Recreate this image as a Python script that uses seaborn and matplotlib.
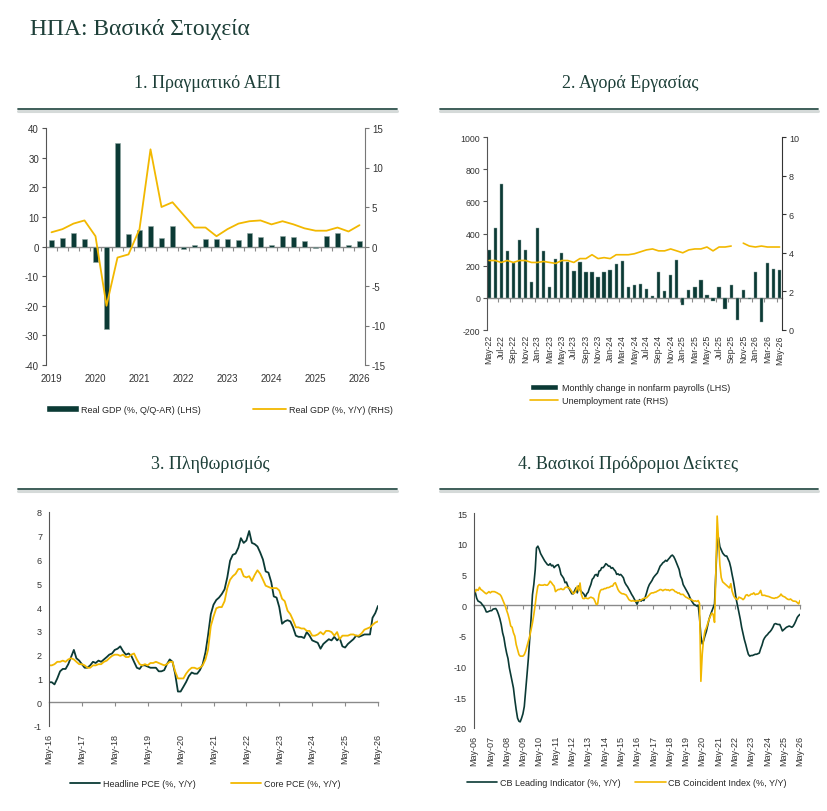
import numpy as np
import pandas as pd
import matplotlib
matplotlib.use("Agg")
import matplotlib.pyplot as plt
import matplotlib.dates as mdates
from matplotlib.lines import Line2D
from matplotlib.patches import Patch
import seaborn as sns

# colours
DARK = "#0b3a35"
GOLD = "#f2b800"
TITLE = "#1d3f38"
AXIS = "#555555"
ZERO = "#8a8a8a"

# %% data

# 1. real GDP, quarterly 2019Q1 - 2026Q1
gdp_years = ["2019", "2020", "2021", "2022", "2023", "2024", "2025", "2026"]
gdp_qoq = [2.2, 3.0, 4.6, 2.6, -5.3, -28.0, 34.8, 4.3, 5.6, 6.9, 3.0, 6.9,
           -1.0, 0.6, 2.6, 2.6, 2.6, 2.2, 4.7, 3.1, 0.6, 3.5, 3.1, 1.8,
           -0.5, 3.5, 4.4, 0.6, 1.8]
gdp_yoy = [1.8, 2.2, 2.9, 3.3, 1.3, -7.5, -1.4, -1.0, 2.2, 12.3, 5.0, 5.6,
           4.0, 2.4, 2.4, 1.3, 2.2, 2.9, 3.2, 3.3, 2.8, 3.2, 2.8, 2.3,
           2.0, 2.0, 2.4, 1.9, 2.7]

# 2. labour market, monthly May-22 - May-26
payrolls = [300, 437, 710, 293, 216, 357, 300, 101,
            437, 293, 66, 243, 278, 223, 165, 223, 160, 160, 130, 160,
            173, 210, 230, 66, 80, 88, 52, 12, 160, 40, 139, 238,
            -46, 48, 69, 113, 17, -17, 69, -67, 81, -140, 48, -10,
            163, -152, 219, 182, 175]
unemployment = [3.6, 3.6, 3.5, 3.6, 3.5, 3.6, 3.6, 3.5,
                3.5, 3.55, 3.5, 3.45, 3.6, 3.6, 3.5, 3.7, 3.7, 3.9, 3.7, 3.75,
                3.7, 3.9, 3.9, 3.9, 3.95, 4.05, 4.15, 4.2, 4.1, 4.1, 4.2, 4.1,
                4.0, 4.15, 4.2, 4.2, 4.3, 4.1, 4.3, 4.3, 4.35, np.nan, 4.5, 4.35,
                4.3, 4.35, 4.3, 4.3, 4.3]

# 3. inflation, monthly May-16 - May-26
pce_headline = [0.84, 0.84, 0.75, 1.0, 1.3, 1.4, 1.4, 1.6, 1.9, 2.2, 1.85, 1.75,
                1.6, 1.45, 1.45, 1.55, 1.7, 1.65, 1.75, 1.7, 1.8, 1.9, 2.0, 2.05,
                2.2, 2.25, 2.35, 2.15, 2.0, 2.05, 1.95, 1.7, 1.45, 1.4, 1.55, 1.55,
                1.5, 1.45, 1.45, 1.45, 1.3, 1.3, 1.35, 1.6, 1.8, 1.7, 1.2, 0.45,
                0.45, 0.65, 0.85, 1.1, 1.25, 1.2, 1.2, 1.35, 1.6, 2.1, 2.8, 3.7,
                4.1, 4.3, 4.4, 4.55, 4.75, 5.25, 5.95, 6.2, 6.25, 6.5, 6.9, 6.7,
                6.8, 7.2, 6.7, 6.65, 6.55, 6.3, 6.0, 5.5, 5.45, 5.05, 4.45, 4.4,
                4.0, 3.3, 3.4, 3.45, 3.4, 3.15, 2.8, 2.75, 2.75, 2.7, 2.95, 2.8,
                2.6, 2.55, 2.5, 2.25, 2.45, 2.55, 2.65, 2.6, 2.75, 2.6, 2.7, 2.35,
                2.3, 2.45, 2.55, 2.65, 2.8, 2.75, 2.8, 2.85, 2.85, 2.85, 3.55, 3.75,
                4.05]
pce_core = [1.55, 1.55, 1.6, 1.7, 1.7, 1.75, 1.7, 1.8, 1.85, 1.8, 1.7, 1.6,
            1.6, 1.55, 1.45, 1.45, 1.55, 1.55, 1.6, 1.6, 1.7, 1.75, 1.85, 1.95,
            2.0, 2.0, 1.95, 2.0, 1.9, 1.9, 2.0, 2.05, 1.8, 1.6, 1.55, 1.6,
            1.55, 1.65, 1.65, 1.7, 1.65, 1.6, 1.55, 1.6, 1.7, 1.7, 1.3, 1.0,
            1.0, 1.0, 1.2, 1.35, 1.45, 1.45, 1.4, 1.45, 1.55, 1.8, 2.2, 3.2,
            3.6, 3.95, 4.0, 4.0, 4.25, 4.8, 5.15, 5.3, 5.4, 5.6, 5.6, 5.3,
            5.25, 5.3, 5.1, 5.35, 5.55, 5.4, 5.15, 4.9, 4.85, 4.8, 4.8, 4.8,
            4.7, 4.35, 4.25, 3.85, 3.7, 3.45, 3.15, 3.15, 3.1, 3.1, 3.0, 3.0,
            2.8, 2.8, 2.85, 2.95, 2.85, 3.0, 3.0, 2.95, 2.8, 2.95, 2.65, 2.8,
            2.8, 2.8, 2.85, 2.85, 2.8, 2.8, 2.9, 3.05, 3.1, 3.15, 3.25, 3.35,
            3.4]

# 4. Conference Board indices, monthly May-06 - May-26
cb_leading = [2.8, 2.0, 1.1, 0.65, 0.55, 0.4, 0.1, -0.15,
              -0.55, -1.1, -1.1, -1.0, -0.9, -0.9, -0.65, -0.6, -0.55, -0.9, -1.5, -2.2,
              -3.15, -4.5, -5.3, -6.7, -7.8, -8.7, -10.2, -11.3, -12.4, -13.5, -15.4, -17.0,
              -18.4, -18.9, -19.0, -18.4, -17.7, -16.5, -14.0, -11.3, -8.6, -5.3, -2.1, 1.7,
              3.4, 5.8, 9.3, 9.6, 9.1, 8.4, 8.0, 7.6, 7.2, 6.9, 6.6, 6.5,
              6.75, 6.4, 6.5, 6.1, 6.35, 6.5, 6.6, 6.0, 5.0, 4.7, 4.35, 3.65,
              3.75, 3.1, 2.7, 2.3, 1.85, 1.85, 2.3, 2.8, 2.0, 3.1, 2.55, 2.2,
              2.0, 1.75, 1.3, 1.85, 2.1, 2.8, 3.35, 4.2, 4.45, 4.9, 5.0, 4.7,
              5.55, 5.65, 6.1, 6.1, 6.35, 6.75, 6.6, 6.35, 6.35, 6.0, 6.1, 5.8,
              5.55, 5.0, 5.1, 4.9, 5.0, 4.75, 4.45, 3.7, 3.3, 3.0, 2.6, 2.2,
              1.75, 1.4, 1.0, 0.6, 0.15, 0.65, 0.9, 0.65, 0.9, 0.75, 1.3, 2.0,
              2.8, 3.35, 3.65, 4.0, 4.45, 4.75, 5.0, 5.25, 5.8, 6.35, 6.6, 6.9,
              7.05, 7.3, 7.15, 7.45, 7.7, 8.0, 8.15, 7.9, 7.45, 6.9, 6.35, 5.8,
              4.7, 4.2, 3.35, 2.95, 2.55, 2.15, 1.75, 1.2, 0.75, 0.4, 0.1, 0.0,
              -0.15, 0.0, -2.0, -5.0, -6.3, -5.8, -5.0, -4.3, -3.3, -2.3, -1.6, -1.0,
              -0.4, 0.2, 5.0, 10.4, 11.0, 9.5, 9.0, 8.5, 8.2, 8.0, 8.0, 7.5,
              7.0, 6.1, 5.0, 3.9, 2.6, 1.0, -0.1, -1.2, -2.3, -3.6, -4.6, -5.6,
              -6.4, -7.3, -8.0, -8.3, -8.2, -8.2, -8.1, -8.0, -8.0, -7.9, -7.8, -7.1,
              -6.5, -5.7, -5.3, -5.0, -4.8, -4.5, -4.3, -4.0, -3.6, -3.1, -3.0, -3.1,
              -3.15, -3.15, -3.6, -4.2, -4.0, -3.8, -3.6, -3.5, -3.4, -3.5, -3.6, -3.4,
              -3.0, -2.5, -2.0, -1.7, -1.5]
cb_coincident = [2.7, 2.2, 2.55, 2.4, 2.9, 2.55, 2.4, 2.2,
                 2.0, 1.85, 2.0, 2.2, 2.0, 2.2, 2.2, 2.2, 2.1, 2.0, 1.85, 1.75,
                 1.45, 0.9, 0.4, -0.15, -0.85, -1.5, -2.35, -3.4, -3.6, -4.5, -5.05, -6.4,
                 -7.2, -8.05, -8.3, -8.3, -8.3, -8.05, -7.5, -6.7, -5.85, -5.05, -3.95, -2.9,
                 -1.5, 0.1, 1.75, 3.1, 3.35, 3.25, 3.25, 3.25, 3.35, 3.25, 3.25, 3.5,
                 3.9, 3.65, 3.35, 3.1, 2.2, 2.4, 2.55, 2.55, 2.7, 2.55, 2.55, 2.85,
                 2.95, 2.85, 2.85, 2.55, 2.2, 1.85, 2.0, 2.4, 3.1, 2.3, 3.6, 1.75,
                 1.1, 1.05, 1.2, 1.1, 1.05, 1.2, 1.3, 1.2, 1.1, 0.65, 0.1, 0.2,
                 1.75, 2.4, 2.55, 2.55, 2.7, 2.7, 2.85, 2.85, 2.95, 3.1, 3.1, 3.5,
                 3.65, 3.1, 2.55, 2.2, 2.0, 1.85, 1.85, 1.75, 1.65, 1.3, 0.9, 0.75,
                 0.65, 0.75, 0.65, 0.65, 0.75, 0.7, 0.75, 0.85, 1.0, 1.1, 1.2, 1.2,
                 1.45, 1.7, 1.9, 2.0, 2.0, 2.1, 2.15, 2.3, 2.4, 2.55, 2.5, 2.35,
                 2.5, 2.55, 2.45, 2.5, 2.35, 2.5, 2.55, 2.45, 2.2, 2.15, 1.95, 2.0,
                 1.75, 1.75, 1.75, 1.5, 1.3, 1.2, 1.05, 1.0, 0.9, 0.75, 0.65, 0.7,
                 0.6, 0.75, 0.3, -12.4, -8.0, -5.5, -4.2, -3.7, -3.0, -2.3, -1.8, -1.3,
                 -1.5, -2.8, 5.0, 14.5, 10.5, 6.5, 4.5, 3.8, 3.6, 3.4, 3.2, 3.0,
                 2.8, 3.5, 2.3, 1.6, 1.2, 1.0, 0.9, 1.3, 1.2, 1.1, 0.9, 1.1,
                 1.6, 1.7, 1.5, 1.6, 1.8, 1.8, 2.0, 1.7, 1.8, 1.8, 2.0, 2.4,
                 1.6, 1.6, 1.6, 1.5, 1.45, 1.4, 1.3, 1.2, 1.15, 1.1, 1.2, 1.2,
                 1.35, 1.5, 1.8, 1.5, 1.4, 1.3, 1.1, 0.95, 0.9, 1.0, 0.8, 0.65,
                 0.65, 0.6, 0.4, 0.2, 0.75]

# x positions / dates
q_idx = np.arange(len(gdp_qoq))
m_idx = np.arange(len(payrolls))
m_dates = pd.date_range("2022-05-01", periods=len(payrolls), freq="MS")
pce_dates = pd.date_range("2016-05-01", periods=len(pce_headline), freq="MS")
cb_dates = pd.date_range("2006-05-01", periods=len(cb_leading), freq="MS")

# %% style
sns.set_style("white")
plt.rcParams["font.family"] = ["Liberation Sans", "DejaVu Sans"]
plt.rcParams["font.size"] = 6.5
plt.rcParams["axes.linewidth"] = 0.8
plt.rcParams["axes.unicode_minus"] = False

W, H = 827, 812
fig = plt.figure(figsize=(W / 100, H / 100), dpi=100)


def box(x0, y0, x1, y1):
    # pixel box (top-left origin) -> figure fraction rect
    return [x0 / W, 1 - y1 / H, (x1 - x0) / W, (y1 - y0) / H]


def style_y(ax, side="left", color=AXIS, size=6.5):
    for s in ["top", "bottom", "left", "right"]:
        ax.spines[s].set_visible(False)
    ax.spines[side].set_visible(True)
    ax.spines[side].set_color(color)
    ax.tick_params(axis="y", direction="out", length=3, width=0.8,
                   color=color, labelcolor="#333333", labelsize=size, pad=2)


def zero_axis(ax, ticks):
    # x-axis line drawn at y = 0 with tick marks below it
    lo, hi = ax.get_ylim()
    sec = ax.secondary_xaxis((0 - lo) / (hi - lo))
    sec.set_alignment("bottom")
    sec.spines["bottom"].set_color(ZERO)
    sec.spines["bottom"].set_linewidth(1.0)
    sec.set_xticks(ticks)
    sec.tick_params(axis="x", direction="out", length=3, width=0.8,
                    color=ZERO, labelbottom=False, labeltop=False)
    return sec


def header(text, xc, y_text, x0, x1, y_line):
    fig.text(xc / W, 1 - y_text / H, text, ha="center", va="center",
             family="Liberation Serif", fontsize=13, color=TITLE)
    # soft shadow under the rule, then the rule
    fig.add_artist(Line2D([x0 / W, x1 / W], [1 - (y_line + 1.5) / H] * 2,
                          color="#d5dad9", lw=2.2, transform=fig.transFigure))
    fig.add_artist(Line2D([x0 / W, x1 / W], [1 - y_line / H] * 2,
                          color="#2f524c", lw=1.3, transform=fig.transFigure))


fig.text(30 / W, 1 - 30 / H, "ΗΠΑ: Βασικά Στοιχεία", ha="left", va="center",
         family="Liberation Serif", fontsize=17, color=TITLE)

header("1. Πραγματικό ΑΕΠ", 207, 83, 18, 397, 110)
header("2. Αγορά Εργασίας", 630, 83, 440, 818, 110)
header("3. Πληθωρισμός", 210, 465, 18, 397, 490)
header("4. Βασικοί Πρόδρομοι Δείκτες", 628, 465, 440, 818, 490)

# %% 1. real GDP
ax = fig.add_axes(box(46, 129, 365, 366))
sns.barplot(x=q_idx, y=gdp_qoq, ax=ax, color=DARK, width=0.45,
            saturation=1, edgecolor="#8fa5a1", linewidth=0.4)
ax.set_ylim(-40, 40)
ax.set_yticks(np.arange(-40, 41, 10))
ax.set_xlim(-0.5, len(q_idx) - 0.5)
ax.set_xticks(q_idx[::4])
ax.set_xticklabels(gdp_years)
ax.tick_params(axis="x", length=0, pad=6, labelsize=7, labelcolor="#333333")
ax.set_xlabel("")
style_y(ax, "left", size=7)
zero_axis(ax, q_idx[:-1] + 0.5)

ax2 = ax.twinx()
sns.lineplot(x=q_idx, y=gdp_yoy, ax=ax2, color=GOLD, linewidth=1.3)
ax2.set_ylim(-15, 15)
ax2.set_yticks(np.arange(-15, 16, 5))
style_y(ax2, "right", color="#777777", size=7)
ax2.set_xlim(-0.5, len(q_idx) - 0.5)

ax.legend(handles=[Patch(facecolor=DARK, label="Real GDP (%, Q/Q-AR) (LHS)"),
                   Line2D([], [], color=GOLD, lw=1.3,
                          label="Real GDP (%, Y/Y) (RHS)")],
          loc="center left", bbox_to_anchor=(0.0, -0.187), ncol=2,
          frameon=False, fontsize=6.5, handlelength=3.6, handleheight=0.7,
          handletextpad=0.3, columnspacing=5.8, borderpad=0, borderaxespad=0)

# %% 2. labour market
ax = fig.add_axes(box(487, 138, 782, 331))
sns.barplot(x=m_idx, y=payrolls, ax=ax, color=DARK, width=0.55,
            saturation=1, edgecolor="#8fa5a1", linewidth=0.3)
ax.set_ylim(-200, 1000)
ax.set_yticks(np.arange(-200, 1001, 200))
ax.set_xlim(-0.35, len(m_idx) - 0.6)
ax.set_xticks(m_idx[::2])
ax.set_xticklabels(m_dates[::2].strftime("%b-%y"), rotation=90)
ax.tick_params(axis="x", length=0, pad=3, labelsize=6.3, labelcolor="#333333")
ax.set_xlabel("")
style_y(ax, "left", size=6.3)
zero_axis(ax, m_idx[1:-1:2] + 0.5)

ax2 = ax.twinx()
labour = pd.DataFrame({"m": m_idx, "rate": unemployment})
labour["seg"] = labour["rate"].isna().cumsum()
labour = labour.dropna()
sns.lineplot(data=labour, x="m", y="rate", units="seg", estimator=None,
             ax=ax2, color=GOLD, linewidth=1.2)
ax2.set_ylim(0, 10)
ax2.set_yticks(np.arange(0, 11, 2))
ax2.set_ylabel("")
ax2.set_xlabel("")
style_y(ax2, "right", color="#333333", size=6.5)
ax2.set_xlim(-0.35, len(m_idx) - 0.6)

ax.legend(handles=[Patch(facecolor=DARK,
                         label="Monthly change in nonfarm payrolls (LHS)"),
                   Line2D([], [], color=GOLD, lw=1.2,
                          label="Unemployment rate (RHS)")],
          loc="center left", bbox_to_anchor=(0.146, -0.334), ncol=1,
          frameon=False, fontsize=6.5, handlelength=3.1, handleheight=0.7,
          handletextpad=0.4, labelspacing=0.45, borderpad=0, borderaxespad=0)

# %% 3. inflation
ax = fig.add_axes(box(49, 513, 378, 727))
sns.lineplot(x=pce_dates, y=pce_headline, ax=ax, color=DARK, linewidth=1.3,
             label="Headline PCE (%, Y/Y)")
sns.lineplot(x=pce_dates, y=pce_core, ax=ax, color=GOLD, linewidth=1.3,
             label="Core PCE (%, Y/Y)")
ax.set_ylim(-1, 8)
ax.set_yticks(np.arange(-1, 9, 1))
ax.set_xlim(pce_dates[0], pce_dates[-1])
may_pce = pce_dates[::12]
ax.set_xticks(may_pce)
ax.set_xticklabels(may_pce.strftime("%b-%y"), rotation=90)
ax.tick_params(axis="x", length=0, pad=5, labelsize=6.5, labelcolor="#333333")
ax.set_xlabel("")
style_y(ax, "left")
zero_axis(ax, mdates.date2num(may_pce))
ax.legend(loc="center left", bbox_to_anchor=(0.064, -0.269), ncol=2,
          frameon=False, fontsize=6.5, handlelength=3.3, handletextpad=0.3,
          columnspacing=4.0, borderpad=0, borderaxespad=0)

# %% 4. leading indicators
ax = fig.add_axes(box(474, 514, 800, 729))
sns.lineplot(x=cb_dates, y=cb_leading, ax=ax, color=DARK, linewidth=1.2,
             label="CB Leading Indicator (%, Y/Y)")
sns.lineplot(x=cb_dates, y=cb_coincident, ax=ax, color=GOLD, linewidth=1.2,
             label="CB Coincident Index (%, Y/Y)")
ax.set_ylim(-20, 15)
ax.set_yticks(np.arange(-20, 16, 5))
ax.set_xlim(cb_dates[0], cb_dates[-1])
may_cb = cb_dates[::12]
ax.set_xticks(may_cb)
ax.set_xticklabels(may_cb.strftime("%b-%y"), rotation=90)
ax.tick_params(axis="x", length=0, pad=5, labelsize=6.5, labelcolor="#333333")
ax.set_xlabel("")
style_y(ax, "left")
zero_axis(ax, mdates.date2num(may_cb))
ax.legend(loc="center left", bbox_to_anchor=(-0.023, -0.254), ncol=2,
          frameon=False, fontsize=6.5, handlelength=3.4, handletextpad=0.3,
          columnspacing=1.6, borderpad=0, borderaxespad=0)

fig.savefig("out.png", dpi=100)
